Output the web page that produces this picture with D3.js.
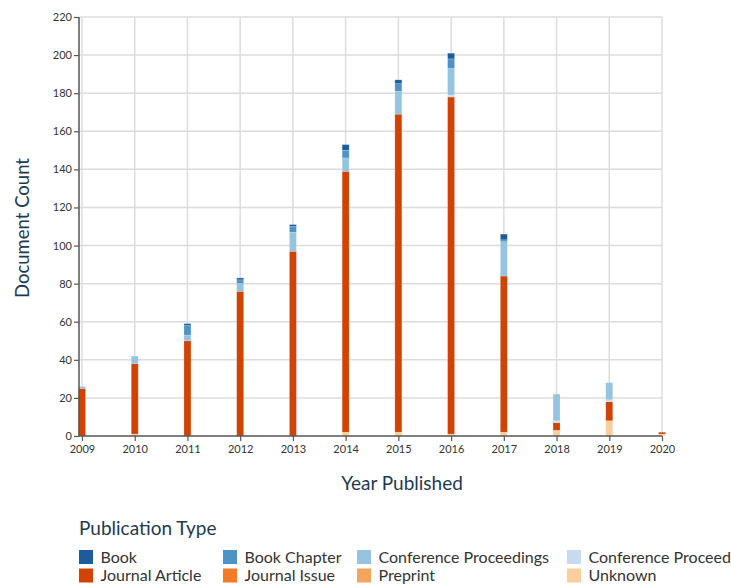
<!DOCTYPE html>
<html>
<head>
<meta charset="utf-8">
<script src="https://cdn.jsdelivr.net/npm/d3@7"></script>
<style>
  body { margin: 0; background: #fff; }
  svg { display: block; font-family: Lato, "Open Sans", sans-serif; }
</style>
</head>
<body>
<div id="chart"></div>
<script>
var w = 731;
var h = 584;

// values
var years = [2009, 2010, 2011, 2012, 2013, 2014, 2015, 2016, 2017, 2018, 2019, 2020];
var book = [0, 0, 1, 1, 1, 3, 2, 3, 3, 0, 0, 0];
var bookChapter = [0, 0, 5, 2, 3, 4, 4, 5, 1, 0, 0, 0];
var confProceedings = [1, 4, 3, 4, 10, 7, 12, 14, 18, 14, 9, 0];
var confProceed2 = [0, 0, 0, 0, 0, 0, 0, 1, 0, 1, 1, 0];
var journalArticle = [25, 37, 50, 76, 97, 137, 167, 177, 82, 4, 10, 1];
var journalIssue = [0, 0, 0, 0, 0, 0, 0, 0, 0, 0, 0, 0];
var preprint = [0, 0, 0, 0, 0, 0, 0, 0, 0, 0, 0, 0];
var unknown = [0, 1, 0, 0, 0, 2, 2, 1, 2, 3, 8, 1];
var yTicks = [0, 20, 40, 60, 80, 100, 120, 140, 160, 180, 200, 220];

var types = ["Book", "Book Chapter", "Conference Proceedings", "Conference Proceed",
             "Journal Article", "Journal Issue", "Preprint", "Unknown"];
var colors = ["#1c5c9b", "#4f92c6", "#94c4df", "#c6dbef",
              "#d04305", "#f17b28", "#f5a55b", "#fbcf9d"];
var series = [book, bookChapter, confProceedings, confProceed2,
              journalArticle, journalIssue, preprint, unknown];

var rows = years.map(function(y, i) {
    var r = { year: y };
    types.forEach(function(t, k) { r[t] = series[k][i]; });
    return r;
});

// stack bottom to top: Unknown ... Book
var stack = d3.stack().keys(types.slice().reverse());
var stacked = stack(rows);

var color = d3.scaleOrdinal().domain(types).range(colors);

var svg = d3.select("#chart").append("svg")
    .attr("width", w)
    .attr("height", h);

var x = d3.scaleLinear().domain([2009, 2020]).range([82, 662]);
var y = d3.scaleLinear().domain([0, 220]).range([436, 17]);
var barW = 7;

// grid
svg.append("g").selectAll("line.h")
    .data(yTicks.slice(1))
    .enter().append("line")
    .attr("x1", 80).attr("x2", 662)
    .attr("y1", function(d) { return y(d); })
    .attr("y2", function(d) { return y(d); })
    .attr("stroke", "#dcdcdc")
    .attr("stroke-width", 1.5);

svg.append("g").selectAll("line.v")
    .data(years)
    .enter().append("line")
    .attr("x1", function(d) { return x(d); })
    .attr("x2", function(d) { return x(d); })
    .attr("y1", y(220)).attr("y2", y(0))
    .attr("stroke", "#dcdcdc")
    .attr("stroke-width", 1.5);

// bars
svg.append("g").selectAll("g")
    .data(stacked)
    .enter().append("g")
    .attr("fill", function(d) { return color(d.key); })
    .selectAll("rect")
    .data(function(d) { return d; })
    .enter().append("rect")
    .filter(function(d) { return d[1] - d[0] > 0; })
    .attr("x", function(d) { return x(d.data.year) - barW / 2; })
    .attr("width", barW)
    .attr("y", function(d) { return y(d[1]); })
    .attr("height", function(d) { return y(d[0]) - y(d[1]); })
    .attr("stroke", "#ffffff")
    .attr("stroke-opacity", 0.35)
    .attr("stroke-width", 0.6);

// axes
var yAxis = svg.append("g")
    .attr("transform", "translate(79,0)")
    .call(d3.axisLeft(y).tickValues(yTicks).tickSize(5).tickSizeOuter(0));
var xAxis = svg.append("g")
    .attr("transform", "translate(0,436)")
    .call(d3.axisBottom(x).tickValues(years).tickFormat(d3.format("d")).tickSize(5).tickSizeOuter(0));

[yAxis, xAxis].forEach(function(a) {
    a.select(".domain").attr("stroke", "#555").attr("stroke-width", 1.5);
    a.selectAll(".tick line").attr("stroke", "#555").attr("stroke-width", 1.2);
    a.selectAll("text")
        .attr("fill", "#333")
        .style("font-family", "Lato, sans-serif")
        .style("font-size", "11px");
});
yAxis.select(".domain").attr("d", "M0,436V17");
xAxis.select(".domain").attr("d", "M79,0H662");
yAxis.selectAll("text").attr("x", -7);
xAxis.selectAll("text").attr("y", 9);

// axis titles
svg.append("text")
    .attr("x", 402).attr("y", 490)
    .attr("text-anchor", "middle")
    .attr("fill", "#1d3a50")
    .style("font-size", "19px")
    .text("Year Published");

svg.append("text")
    .attr("transform", "translate(29,228) rotate(-90)")
    .attr("text-anchor", "middle")
    .attr("fill", "#1d3a50")
    .style("font-size", "18.5px")
    .text("Document Count");

// legend
svg.append("text")
    .attr("x", 79).attr("y", 535)
    .attr("fill", "#1d3a50")
    .style("font-size", "19px")
    .text("Publication Type");

var legX = [79, 223, 357, 567];
var leg = svg.append("g").selectAll("g")
    .data(types)
    .enter().append("g")
    .attr("transform", function(d, i) {
        return "translate(" + legX[i % 4] + "," + (550 + Math.floor(i / 4) * 18.5) + ")";
    });
leg.append("rect")
    .attr("width", 14).attr("height", 14)
    .attr("fill", function(d) { return color(d); });
leg.append("text")
    .attr("x", 21.5).attr("y", 12.5)
    .attr("fill", "#333")
    .style("font-size", "16px")
    .text(function(d) { return d; });
</script>
</body>
</html>
